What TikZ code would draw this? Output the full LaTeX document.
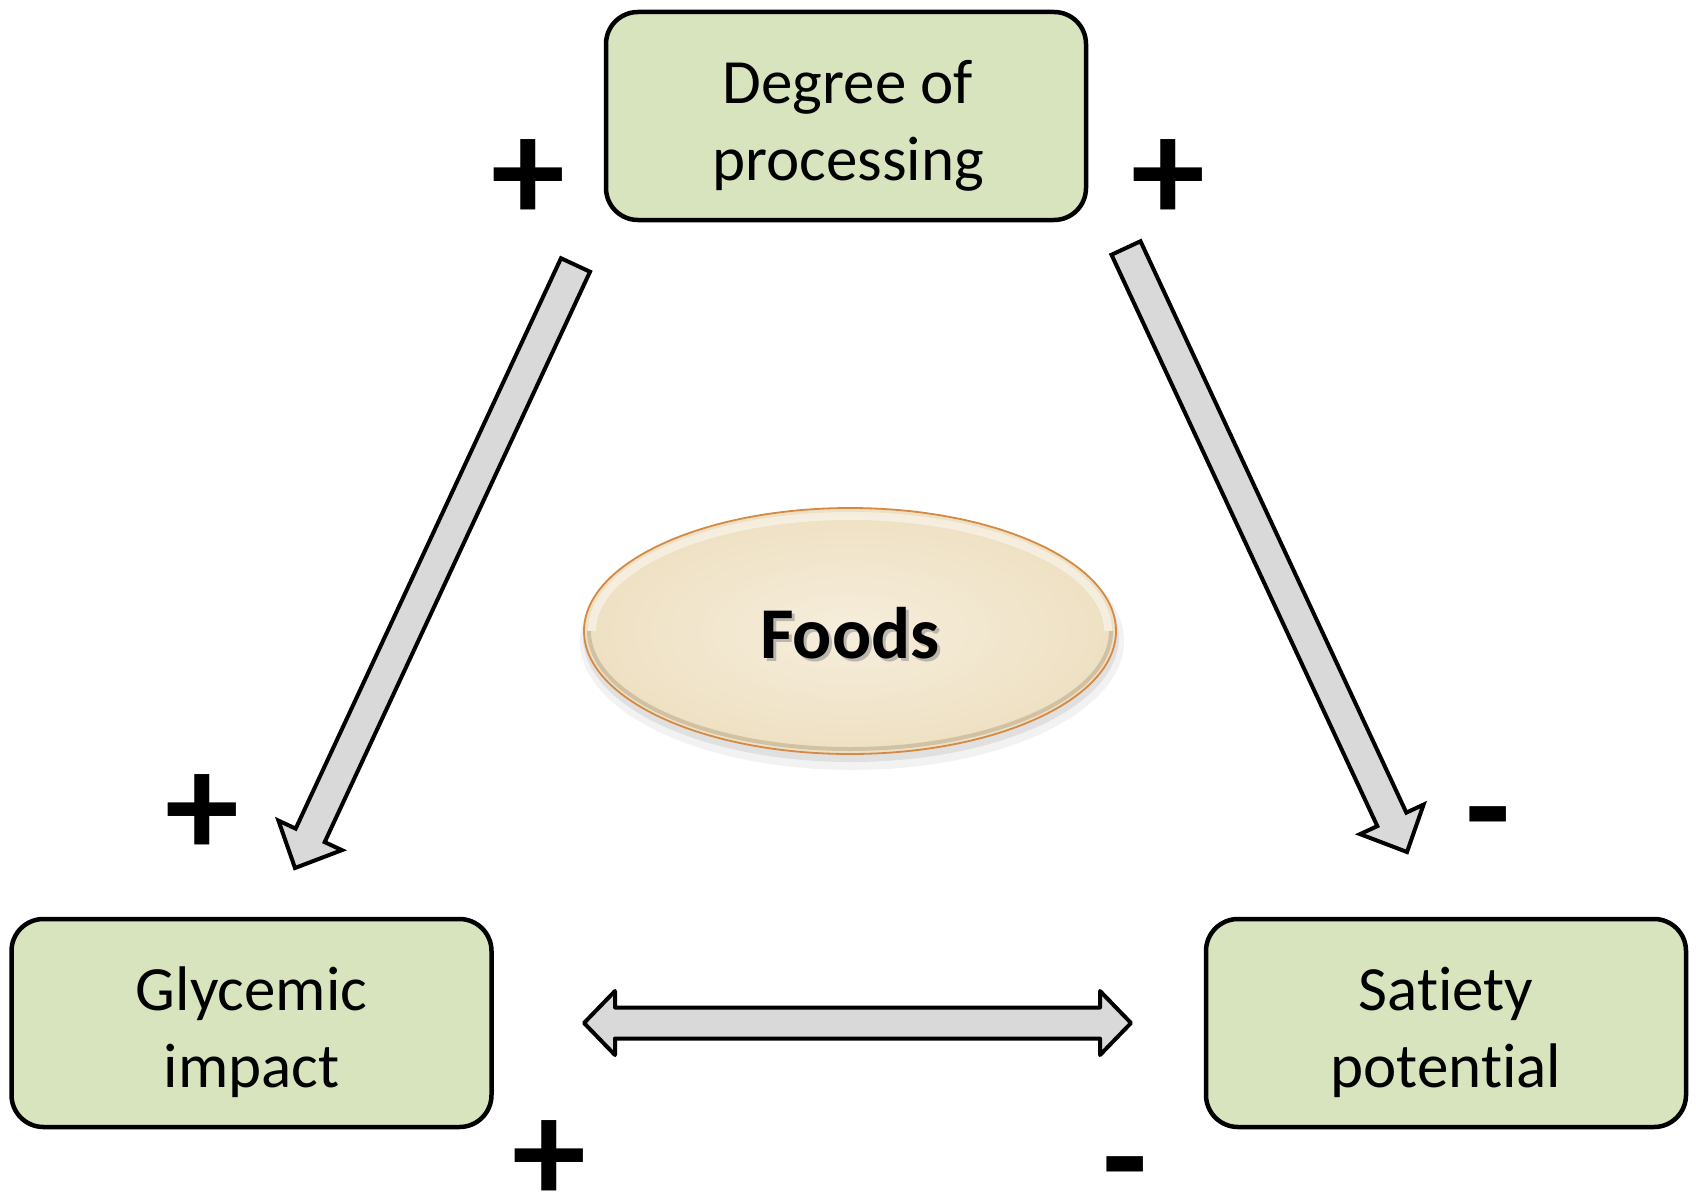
\documentclass[tikz,border=0pt]{standalone}
\usepackage{fontspec}
\setmainfont[RawFeature=-liga]{Carlito}
\usetikzlibrary{calc,shapes.geometric}
\definecolor{boxgreen}{HTML}{D7E4BD}
\definecolor{arrgray}{HTML}{D9D9D9}
\definecolor{foodin}{HTML}{F6EEDC}
\definecolor{foodout}{HTML}{EEE0C2}
\definecolor{foodrim}{HTML}{D48A45}
\definecolor{foodshade}{HTML}{9C8A6C}
\newcommand\blockarr[5]{%
  \coordinate (hb) at ($(#2)!#5!(#1)$);
  \draw[arrowbox] ($(#1)!#3!90:(#2)$) -- ($(hb)!#3!-90:(#1)$) -- ($(hb)!#4!-90:(#1)$)
    -- (#2) -- ($(hb)!#4!90:(#1)$) -- ($(hb)!#3!90:(#1)$) -- ($(#1)!#3!-90:(#2)$) -- cycle;}
\begin{document}
\begin{tikzpicture}[x=1pt,y=-1pt,
  boxnode/.style={draw=black, line width=4.5pt, fill=boxgreen, rounded corners=32pt,
    minimum width=480pt, minimum height=208pt, inner sep=0pt, outer sep=0pt},
  boxtext/.style={align=center, font=\fontsize{63}{77}\selectfont, inner sep=0pt},
  arrowbox/.style={draw=black, line width=4pt, fill=arrgray, line join=miter},
  sign/.style={font=\fontsize{148}{148}\selectfont\bfseries, inner sep=0pt}]
\useasboundingbox (0,0) rectangle (1696,1193);
\fill[white] (0,0) rectangle (1696,1193);

% boxes
\node[boxnode] (dop) at (846,116) {};
\node[boxnode] (gly) at (251.5,1023) {};
\node[boxnode] (sat) at (1446,1023) {};
\node[boxtext] (doptxt) at ($(dop.center)+(2,10)$) {Degree of\\processing};
\node[boxtext] (glytxt) at ($(gly.center)+(0,9)$) {Glycemic\\impact};
\node[boxtext] (sattxt) at ($(sat.center)+(0,9)$) {Satiety\\potential};

% diagonal arrows
\coordinate (lt) at (575.5,265);
\coordinate (lp) at (295,868);
\coordinate (rt) at (1126,248);
\coordinate (rp) at (1407,852);
\blockarr{lt}{lp}{16pt}{35pt}{36pt}
\blockarr{rt}{rp}{16pt}{35pt}{36pt}

% horizontal double arrow
\coordinate (hl) at (584,1023);
\coordinate (hr) at (1131,1023);
\draw[arrowbox, line join=round] (hl) -- ($(hl)+(31,-32)$) -- ($(hl)+(31,-15.5)$) -- ($(hr)+(-31,-15.5)$)
  -- ($(hr)+(-31,-32)$) -- (hr) -- ($(hr)+(-31,32)$) -- ($(hr)+(-31,15.5)$) -- ($(hl)+(31,15.5)$)
  -- ($(hl)+(31,32)$) -- cycle;

% Foods ellipse
\fill[black, opacity=0.05] (852,641) ellipse [x radius=272, y radius=129];
\fill[black, opacity=0.07] (851,637) ellipse [x radius=268, y radius=125];
\node[ellipse, minimum width=532pt, minimum height=246pt, inner sep=0pt,
  inner color=foodin, outer color=foodout] (foods) at (850,631) {};
\draw[white, opacity=0.45, line width=8pt] (foods.center) ++(-258,0) arc[start angle=180, end angle=360, x radius=258, y radius=115];
\draw[foodshade, opacity=0.35, line width=4pt] (foods.center) ++(261,0) arc[start angle=0, end angle=180, x radius=261, y radius=118];
\draw[foodrim, line width=1.8pt] (foods.center) ellipse [x radius=266, y radius=123];
\node[font=\fontsize{73}{88}\selectfont\bfseries, text=black!45, opacity=0.55] at (853,636) {Foods};
\node[font=\fontsize{73}{88}\selectfont\bfseries] (foodstxt) at (850,633) {Foods};

% signs
\node[sign] (s1) at (528,181) {+};
\node[sign] (s2) at (1168,181) {+};
\node[sign] (s3) at (202,816) {+};
\node[sign] (s4) at (1488,832) {-};
\node[sign] (s5) at (549,1162) {+};
\node[sign] (s6) at (1125,1182) {-};
\end{tikzpicture}
\end{document}
